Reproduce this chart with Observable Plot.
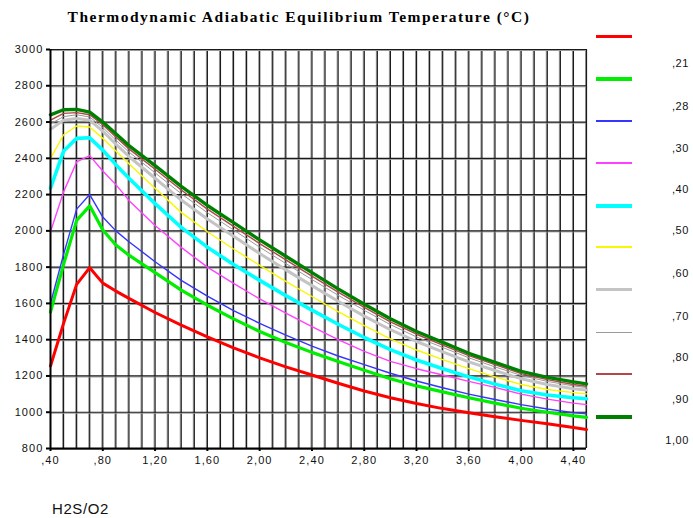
<!DOCTYPE html>
<html>
<head>
<meta charset="utf-8">
<script src="https://cdn.jsdelivr.net/npm/d3@7"></script>
<script src="https://cdn.jsdelivr.net/npm/@observablehq/plot@0.6"></script>
<style>
  body { margin: 0; background: #fff; }
  #wrap { position: relative; width: 693px; height: 518px; overflow: hidden; }
  #title { position: absolute; left: 0; width: 598px; top: 8px; text-align: center;
           font-family: "Liberation Serif", serif; font-weight: bold; font-size: 15.5px; letter-spacing: 1.5px; color: #000; }
  #xlabel { position: absolute; left: 52px; top: 500px; font-family: "Liberation Sans", Arial, sans-serif; font-size: 15px; letter-spacing: 0.6px; color: #111; }
  .lg-line { position: absolute; left: 596px; width: 36px; }
  .lg-text { position: absolute; right: 4px; font-family: "Liberation Sans", Arial, sans-serif; font-size: 11px; letter-spacing: 0.6px; color: #111; transform: translateY(-50%); }
  svg text { letter-spacing: 1.1px; }
</style>
</head>
<body>
<div id="wrap">
  <div id="title">Thermodynamic Adiabatic Equilibrium Temperature (°C)</div>
  <div id="chart"></div>
  <div id="xlabel">H2S/O2</div>
</div>
<script>
// H2S/O2 ratio (x)
const ratios = [0.4,0.5,0.6,0.7,0.8,0.9,1.0,1.2,1.4,1.6,1.8,2.0,2.2,2.4,2.6,2.8,3.0,3.2,3.4,3.6,3.8,4.0,4.2,4.4,4.5];

// Temperature (°C) for each O2 fraction
const t021 = [1255,1490,1705,1797,1712,1668,1628,1550,1480,1415,1355,1300,1250,1205,1160,1117,1080,1048,1020,997,975,955,937,916,905];
const t028 = [1552,1815,2058,2138,2005,1922,1866,1770,1673,1590,1515,1445,1385,1330,1280,1232,1185,1145,1112,1080,1050,1022,1000,980,972];
const t030 = [1600,1870,2120,2200,2076,2000,1940,1830,1727,1640,1560,1490,1425,1365,1310,1262,1215,1172,1135,1100,1070,1042,1018,998,991];
const t040 = [1995,2215,2380,2415,2330,2255,2168,2030,1909,1800,1710,1625,1547,1472,1400,1335,1280,1240,1205,1170,1137,1100,1072,1050,1042];
const t050 = [2235,2440,2510,2513,2445,2365,2290,2150,2019,1910,1815,1727,1643,1563,1485,1412,1345,1288,1240,1195,1155,1118,1095,1080,1074];
const t060 = [2400,2530,2578,2573,2510,2440,2370,2235,2102,1995,1900,1810,1722,1638,1555,1477,1405,1343,1290,1240,1195,1153,1125,1108,1101];
const t070 = [2560,2610,2620,2610,2550,2478,2410,2290,2170,2065,1970,1875,1785,1698,1612,1530,1455,1390,1333,1278,1230,1185,1153,1130,1122];
const t080 = [2590,2630,2640,2628,2570,2500,2435,2320,2205,2100,2005,1910,1820,1732,1645,1562,1483,1415,1357,1300,1250,1203,1170,1145,1136];
const t090 = [2610,2648,2652,2640,2585,2518,2452,2340,2225,2120,2025,1930,1840,1750,1662,1578,1498,1430,1370,1312,1262,1213,1180,1153,1143];
const t100 = [2640,2668,2670,2655,2600,2535,2470,2360,2245,2140,2045,1950,1860,1770,1680,1595,1515,1445,1385,1325,1275,1225,1192,1167,1156];

const seriesLabels = [",21", ",28", ",30", ",40", ",50", ",60", ",70", ",80", ",90", "1,00"];
const seriesValues = [t021, t028, t030, t040, t050, t060, t070, t080, t090, t100];
const seriesColors = ["#ff0000", "#00ee00", "#3535ff", "#ff40ff", "#00ffff", "#f8f800", "#c4c4c4", "#9a9a9a", "#b04848", "#008000"];
const seriesWidths = [3, 3.2, 1.4, 1.4, 3.6, 1.4, 3, 1, 1.4, 3.4];

const xTicks = [0.4, 0.8, 1.2, 1.6, 2.0, 2.4, 2.8, 3.2, 3.6, 4.0, 4.4];
const xTickLabels = [",40", ",80", "1,20", "1,60", "2,00", "2,40", "2,80", "3,20", "3,60", "4,00", "4,40"];
const yTicks = [800, 1000, 1200, 1400, 1600, 1800, 2000, 2200, 2400, 2600, 2800, 3000];
const yTickLabels = ["800", "1000", "1200", "1400", "1600", "1800", "2000", "2200", "2400", "2600", "2800", "3000"];
const xGrid = d3.range(5, 46).map(d => d / 10);

const lineMarks = seriesValues.map((vals, s) =>
  Plot.line(ratios, {x: d => d, y: (d, i) => vals[i], stroke: seriesColors[s], strokeWidth: seriesWidths[s], strokeLinejoin: "round"})
);

const chart = Plot.plot({
  width: 693, height: 518,
  marginLeft: 50, marginRight: 107, marginTop: 49, marginBottom: 70,
  style: {fontFamily: "Liberation Sans, Arial, sans-serif", fontSize: "11px", color: "#111", background: "transparent"},
  x: {domain: [0.4, 4.5]},
  y: {domain: [800, 3000]},
  marks: [
    Plot.ruleX(xGrid, {stroke: "#9a9a9a", strokeWidth: 1, dx: -1}),
    Plot.ruleX(xGrid, {stroke: "#1a1a1a", strokeWidth: 1.2}),
    Plot.ruleY(yTicks, {stroke: "#9a9a9a", strokeWidth: 1, dy: 1}),
    Plot.ruleY(yTicks, {stroke: "#1a1a1a", strokeWidth: 1.2}),
    ...lineMarks,
    Plot.ruleX([0.4], {stroke: "#000", strokeWidth: 2}),
    Plot.ruleY([800], {stroke: "#000", strokeWidth: 2}),
    Plot.axisY({ticks: yTicks, tickFormat: d => yTickLabels[yTicks.indexOf(d)], tickSize: 4, tickPadding: 3, stroke: "#000", strokeWidth: 2, label: null}),
    Plot.axisX({ticks: xTicks, tickFormat: d => xTickLabels[xTicks.indexOf(d)], tickSize: 3, tickPadding: 5, stroke: "#000", strokeWidth: 2, label: null})
  ]
});
document.getElementById("chart").appendChild(chart);

// legend
const wrap = document.getElementById("wrap");
const legendLineY = [36, 79, 121, 163, 206, 247, 289, 332, 374, 417];
const legendTextY = [63, 106, 148, 189, 230, 273, 316, 357, 399, 440];
seriesLabels.forEach((lab, i) => {
  const ln = document.createElement("div");
  ln.className = "lg-line";
  ln.style.top = (legendLineY[i] - seriesWidths[i] / 2) + "px";
  ln.style.height = seriesWidths[i] + "px";
  ln.style.background = seriesColors[i];
  wrap.appendChild(ln);
  const tx = document.createElement("div");
  tx.className = "lg-text";
  tx.style.top = legendTextY[i] + "px";
  tx.textContent = lab;
  wrap.appendChild(tx);
});
</script>
</body>
</html>
